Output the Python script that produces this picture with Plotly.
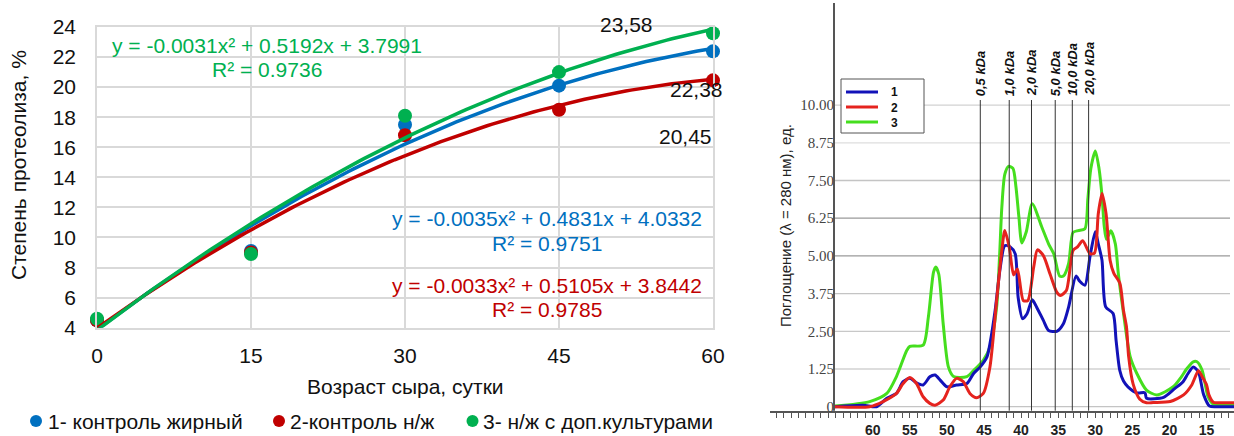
import numpy as np
import plotly.graph_objects as go

W, H = 1234, 436
FONT = "Liberation Sans, Arial, sans-serif"
SERIF = "Liberation Serif, Times New Roman, serif"


def fx(px):
    return min(max(px / W, 0.0), 1.0)


def fy(py):
    return min(max(1 - py / H, 0.0), 1.0)


# ---------------- Proteolysis vs. ripening age ----------------
days = [0, 15, 30, 45, 60]
fat_control = [4.5, 9.1, 17.5, 20.1, 22.38]
lowfat_control = [4.5, 9.0, 16.8, 18.5, 20.45]
lowfat_cultures = [4.6, 8.9, 18.1, 21.0, 23.58]
series_values = [fat_control, lowfat_control, lowfat_cultures]
series_names = ["1- контроль жирный", "2-контроль н/ж", "3- н/ж с доп.культурами"]
series_colors = ["#0070C0", "#C00000", "#00B050"]
trend_equations = ["y = -0.0035x² + 0.4831x + 4.0332",
                   "y = -0.0033x² + 0.5105x + 3.8442",
                   "y = -0.0031x² + 0.5192x + 3.7991"]
trend_r2 = ["R² = 0.9751", "R² = 0.9785", "R² = 0.9736"]
y_ticks_left = [4, 6, 8, 10, 12, 14, 16, 18, 20, 22, 24]

# ---------------- Gel-filtration profiles ----------------
vol_1 = [65.1, 61.3, 59.5, 58.1, 56.8, 55.9, 55.0, 54.1, 53.2, 52.3, 51.6, 50.9, 50.0,
         48.7, 47.3, 46.4, 45.5, 44.6, 44.2, 43.5, 42.8, 42.2, 41.5, 40.8, 40.4, 39.8,
         39.2, 38.5, 37.9, 37.0, 36.3, 35.2, 34.3, 33.6, 32.6, 32.1, 31.4, 30.7, 30.0,
         29.6, 29.1, 28.6, 27.6, 27.2, 26.7, 26.2, 25.6, 24.4, 23.3, 23.1, 20.8, 19.3,
         18.2, 17.5, 16.8, 16.1, 15.4, 14.6, 13.5, 11.3]
abs_1 = [0.0, 0.05, 0.0, 0.28, 0.44, 0.83, 0.94, 0.79, 0.72, 0.99, 1.05, 0.88, 0.66,
         0.72, 0.77, 1.1, 1.32, 1.65, 2.09, 3.19, 4.63, 5.34, 5.3, 5.07, 3.63, 2.92,
         3.08, 3.55, 3.3, 2.86, 2.53, 2.5, 2.75, 3.3, 4.33, 4.16, 4.03, 5.0, 5.8,
         5.4, 4.86, 3.31, 3.09, 2.2, 1.2, 0.85, 0.66, 0.46, 0.46, 0.28, 0.31, 0.6,
         0.82, 1.1, 1.32, 1.15, 0.4, 0.02, 0.0, 0.0]

vol_2 = [65.1, 60.4, 58.6, 56.8, 55.9, 55.0, 54.1, 53.2, 52.3, 51.6, 50.5, 49.6, 48.7,
         47.8, 46.9, 46.0, 45.1, 44.2, 43.3, 42.6, 42.2, 41.6, 41.0, 40.5, 39.7, 39.1,
         38.3, 37.8, 37.0, 36.1, 35.2, 34.7, 33.9, 33.0, 32.4, 31.7, 30.7, 30.1, 29.6,
         29.1, 28.55, 28.0, 27.5, 26.7, 26.2, 25.8, 25.5, 24.9, 24.0, 23.1, 22.2, 19.9,
         18.1, 17.0, 16.1, 15.5, 15.0, 14.7, 14.1, 13.5, 11.3]
abs_2 = [0.0, 0.0, 0.17, 0.44, 0.77, 0.97, 0.77, 0.33, 0.11, 0.05, 0.22, 0.66, 0.94,
         0.83, 0.44, 0.3, 0.44, 1.32, 3.52, 5.18, 5.84, 5.29, 4.37, 4.57, 3.52, 3.52,
         4.63, 5.2, 5.01, 4.4, 3.8, 3.69, 3.85, 5.18, 5.3, 5.5, 5.07, 5.1, 6.4,
         7.07, 6.4, 4.85, 4.42, 4.1, 3.19, 2.65, 1.65, 0.75, 0.25, 0.13, 0.14, 0.17,
         0.39, 0.72, 1.19, 0.95, 0.72, 0.4, 0.15, 0.13, 0.13]

vol_3 = [65.1, 60.4, 58.1, 56.8, 55.4, 55.0, 53.2, 52.5, 51.8, 51.5, 51.1, 50.5, 49.8,
         49.1, 47.3, 46.4, 45.1, 44.2, 43.3, 42.9, 42.6, 42.2, 41.7, 41.1, 40.7, 40.3,
         39.9, 39.3, 38.5, 37.2, 36.3, 35.6, 34.8, 34.3, 33.6, 33.0, 32.3, 31.4, 31.0,
         30.6, 30.0, 29.5, 29.1, 28.8, 28.5, 27.9, 27.3, 26.9, 26.2, 25.3, 24.4, 23.1,
         21.7, 19.5, 18.4, 17.7, 16.8, 16.3, 15.6, 14.8, 14.1, 13.5, 11.3]
abs_3 = [0.02, 0.17, 0.44, 1.0, 1.87, 2.0, 2.04, 2.97, 4.46, 4.63, 4.4, 2.75, 1.32,
         1.0, 1.0, 1.2, 1.54, 1.98, 3.3, 5.0, 6.6, 7.7, 7.97, 7.9, 7.3, 6.3,
         5.43, 5.8, 6.73, 5.95, 5.4, 5.07, 4.33, 4.33, 4.74, 5.78, 5.84, 5.9, 6.9,
         7.9, 8.48, 7.9, 7.0, 6.0, 5.55, 5.83, 5.4, 4.42, 3.1, 1.66, 1.1, 0.55,
         0.39, 0.66, 0.99, 1.25, 1.49, 1.49, 1.21, 0.33, 0.08, 0.05, 0.05]

profile_vols = [vol_1, vol_2, vol_3]
profile_abs = [abs_1, abs_2, abs_3]
profile_names = ["1", "2", "3"]
profile_colors = ["#1212B8", "#E5231E", "#45DE1E"]

kda_positions = [45.5, 41.6, 38.6, 35.4, 33.1, 30.9]
kda_labels = ["0,5 kDa", "1,0 kDa", "2,0 kDa", "5,0 kDa", "10,0 kDa", "20,0 kDa"]
abs_ticks = [0, 1.25, 2.5, 3.75, 5.0, 6.25, 7.5, 8.75, 10.0]
abs_tick_text = ["0", "1.25", "2.50", "3.75", "5.00", "6.25", "7.50", "8.75", "10.00"]
abs_grid_colors = ["#c4c4c4", "#d2d2d2", "#c8c8c8", "#c4c4c4", "#9a9a9a", "#9a9a9a",
                   "#c4c4c4", "#dedede", "#d2d2d2"]
vol_ticks = [60, 55, 50, 45, 40, 35, 30, 25, 20, 15]

# elution-volume scale of the right panel (pixels per unit, anchored at 60 and 0)
VOL_PX60, VOL_PPU = 872.7, 7.42
ABS_PX0, ABS_PPU = 406.7, 30.16


def vol_at(px):
    return 60 - (px - VOL_PX60) / VOL_PPU


def abs_at(py):
    return (ABS_PX0 - py) / ABS_PPU


vol_axis_start = vol_at(834)

fig = go.Figure()

# measured points and fitted 2nd-order trendlines
x_fit = np.linspace(0, 60, 121)
for vals, name, color in zip(series_values, series_names, series_colors):
    fig.add_trace(go.Scatter(
        x=days, y=vals, mode="markers", name=name, showlegend=False,
        marker=dict(size=14, color=color), cliponaxis=False,
        xaxis="x", yaxis="y"))
for vals, color in zip(series_values, series_colors):
    coef = np.polyfit(days, vals, 2)
    fig.add_trace(go.Scatter(
        x=x_fit, y=np.polyval(coef, x_fit), mode="lines", showlegend=False,
        line=dict(color=color, width=3.5), hoverinfo="skip", cliponaxis=False,
        xaxis="x", yaxis="y"))

# elution profiles
for i in [2, 0, 1]:
    fig.add_trace(go.Scatter(
        x=profile_vols[i], y=profile_abs[i], mode="lines", name=profile_names[i],
        showlegend=False, line=dict(color=profile_colors[i], width=3,
                                    shape="spline", smoothing=0.7),
        xaxis="x2", yaxis="y2"))

shapes = []
annotations = []


def note(x, y, text, size, color="#111", xanchor="center", **kw):
    annotations.append(dict(x=x, y=y, xref=kw.pop("xref", "paper"),
                            yref=kw.pop("yref", "paper"), text=text,
                            showarrow=False, xanchor=xanchor, yanchor="middle",
                            font=dict(family=kw.pop("family", FONT), size=size,
                                      color=color, **kw.pop("font_extra", {})),
                            **kw))


# --- left chart text
eq_positions = [(546.5, 218, 243), (546.5, 285, 309), (266.5, 45, 69)]
for eq, r2, color, (cx, ey, ry) in zip(trend_equations, trend_r2, series_colors,
                                       eq_positions):
    note(fx(cx), fy(ey), eq, 21, color)
    note(fx(cx), fy(ry), r2, 21, color)

for vals, shift in zip(series_values, [(-17, -38), (-28, -56), (-87, 9)]):
    note(days[-1], vals[-1], f"{vals[-1]:.2f}".replace(".", ","), 21,
         xref="x", yref="y", xshift=shift[0], yshift=shift[1])

note(fx(405), fy(386), "Возраст сыра, сутки", 21)
note(fx(18), fy(165), "Степень протеолиза, %", 21, textangle=-90)

# left legend
for name, color, cx, tx in zip(series_names, series_colors, [36, 279, 472.5],
                               [46, 288, 481]):
    shapes.append(dict(type="circle", xref="paper", yref="paper",
                       x0=fx(cx - 6), x1=fx(cx + 6), y0=fy(427), y1=fy(415),
                       fillcolor=color, line=dict(width=0)))
    note(fx(tx), fy(421), name, 21, xanchor="left")

# --- right chart decorations
for val, gc in zip(abs_ticks, abs_grid_colors):
    shapes.append(dict(type="line", xref="x2", yref="y2", x0=vol_axis_start,
                       x1=vol_at(1230), y0=val, y1=val, layer="below",
                       line=dict(color=gc, width=1.3)))
shapes.append(dict(type="line", xref="x2", yref="paper", x0=vol_axis_start,
                   x1=vol_axis_start, y0=fy(410.7), y1=fy(3),
                   line=dict(color="#555", width=2)))
for pos, lab in zip(kda_positions, kda_labels):
    shapes.append(dict(type="line", xref="x2", yref="paper", x0=pos, x1=pos,
                       y0=fy(410.7), y1=fy(100), line=dict(color="#333", width=1)))
    annotations.append(dict(x=pos, y=fy(98), xref="x2", yref="paper", text=lab,
                            showarrow=False, textangle=-90, xanchor="center",
                            yanchor="bottom",
                            font=dict(family=FONT, size=13, color="#111",
                                      weight="bold", style="italic")))

note(fx(785), fy(226), "Поглощение (λ = 280 нм), ед.", 15, "#222", textangle=-90)

# right legend box
shapes.append(dict(type="rect", xref="paper", yref="paper", x0=fx(841), x1=fx(924),
                   y0=fy(133), y1=fy(79), fillcolor="white",
                   line=dict(color="#555", width=1), layer="above"))
for color, ly in zip(profile_colors, [92, 107, 122]):
    shapes.append(dict(type="line", xref="paper", yref="paper", x0=fx(846),
                       x1=fx(878), y0=fy(ly), y1=fy(ly), layer="above",
                       line=dict(color=color, width=3)))
note(fx(894), fy(107), "<br>".join(profile_names), 12, font_extra=dict(weight="bold"))

fig.update_layout(
    width=W, height=H, margin=dict(l=0, r=0, t=0, b=0, pad=0, autoexpand=False),
    paper_bgcolor="white", plot_bgcolor="white", showlegend=False,
    xaxis=dict(domain=[fx(97), fx(713)], range=[0, 60], tickvals=days,
               showgrid=True, gridcolor="#d9d9d9", gridwidth=1.5, zeroline=False,
               showline=True, mirror=True, linecolor="#d9d9d9", linewidth=1.5,
               ticks="", ticklabelstandoff=8, automargin=False,
               tickfont=dict(family=FONT, size=21, color="#111"), anchor="y"),
    yaxis=dict(domain=[fy(327.7), fy(27)], range=[4, 24], tickvals=y_ticks_left,
               showgrid=True, gridcolor="#d9d9d9", gridwidth=1.5, zeroline=False,
               showline=True, mirror=True, linecolor="#d9d9d9", linewidth=1.5,
               ticks="", ticklabelstandoff=15, automargin=False,
               tickfont=dict(family=FONT, size=21, color="#111"), anchor="x"),
    xaxis2=dict(domain=[fx(770), 1.0], range=[vol_at(770), vol_at(1234)],
                tickvals=vol_ticks, automargin=False,
                showgrid=False, zeroline=False, showline=True, linecolor="#555",
                linewidth=2, ticks="outside", ticklen=5, tickcolor="#555",
                minor=dict(dtick=1, ticks="outside", ticklen=5, tickcolor="#555"),
                tickfont=dict(family=FONT, size=14, color="#222", weight="bold"),
                anchor="y2"),
    yaxis2=dict(domain=[fy(410.7), fy(3)], range=[abs_at(410.7), abs_at(3)],
                tickvals=abs_ticks, ticktext=abs_tick_text, showgrid=False,
                zeroline=False, showline=False, ticks="", anchor="free",
                position=fx(834), automargin=False,
                tickfont=dict(family=SERIF, size=15, color="#444")),
    shapes=shapes, annotations=annotations,
)

fig.write_html("out.html")
